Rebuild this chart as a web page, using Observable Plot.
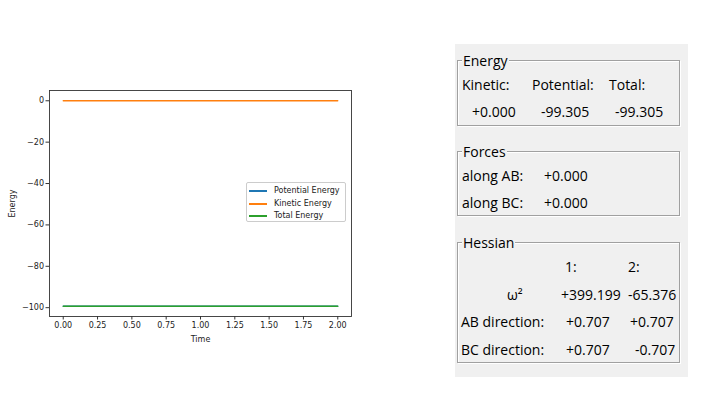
<!DOCTYPE html>
<html>
<head>
<meta charset="utf-8">
<script src="https://cdn.jsdelivr.net/npm/d3@7"></script>
<script src="https://cdn.jsdelivr.net/npm/@observablehq/plot@0.6"></script>
<style>
  html, body { margin: 0; padding: 0; background: #fff; }
  #root { position: relative; width: 708px; height: 396px; overflow: hidden; background: #fff; }
  #chart { position: absolute; left: 0; top: 0; }
  #legend { position: absolute; left: 246px; top: 182px; width: 100px; height: 40px; box-sizing: border-box;
            border: 1px solid #cccccc; border-radius: 2px; background: rgba(255,255,255,0.8);
            font-family: "DejaVu Sans", sans-serif; font-size: 8px; color: #222; }
  .li { position: absolute; left: 0; height: 12px; width: 100%; }
  .li .sw { position: absolute; left: 2px; top: 5px; width: 18px; height: 2px; display: block; }
  .li .tx { position: absolute; left: 27px; top: 0; line-height: 12px; white-space: nowrap; }
  #panel { position: absolute; left: 455px; top: 44px; width: 233px; height: 333px; background: #f0f0f0;
           font-family: "Open Sans", "Noto Sans", sans-serif; font-size: 14px; color: #000; }
  .grp { position: absolute; left: 2px; width: 223px; box-sizing: border-box; border: 1px solid #a0a0a0;
         box-shadow: inset 1px 1px 0 #fff, 1px 1px 0 #fff; }
  .t { position: absolute; white-space: nowrap; line-height: 14px; }
  .gl { background: #f0f0f0; padding: 0 1px; }
</style>
</head>
<body>
<div id="root">
  <div id="chart"></div>
  <div id="legend"></div>
  <div id="panel"></div>
</div>
<script>
// ---- chart data ----
const time = [0.0, 2.0];
const potentialEnergy = [-99.305, -99.305];
const kineticEnergy = [0.0, 0.0];
const totalEnergy = [-99.305, -99.305];
const seriesNames = ["Potential Energy", "Kinetic Energy", "Total Energy"];
const seriesColors = ["#1f77b4", "#ff7f0e", "#2ca02c"];
const xTicks = [0, 0.25, 0.5, 0.75, 1.0, 1.25, 1.5, 1.75, 2.0];
const yTicks = [0, -20, -40, -60, -80, -100];

// ---- panel data ----
const energyHeaders = ["Kinetic:", "Potential:", "Total:"];
const energyValues = ["+0.000", "-99.305", "-99.305"];
const forceLabels = ["along AB:", "along BC:"];
const forceValues = ["+0.000", "+0.000"];
const hessianCols = ["1:", "2:"];
const hessianRowLabels = ["ω²", "AB direction:", "BC direction:"];
const hessianValues = [["+399.199", "-65.376"], ["+0.707", "+0.707"], ["+0.707", "-0.707"]];

const seriesValues = [potentialEnergy, kineticEnergy, totalEnergy];
const rows = [];
seriesValues.forEach((vals, s) => time.forEach((t, i) => rows.push({t, v: vals[i], s: seriesNames[s]})));

const plot = Plot.plot({
  width: 360, height: 350,
  marginLeft: 49, marginRight: 9, marginTop: 90, marginBottom: 34,
  style: {fontFamily: "DejaVu Sans, sans-serif", fontSize: "8px", color: "#222", background: "transparent"},
  x: {domain: [-0.1, 2.1]},
  y: {domain: [-104.27, 4.965]},
  color: {domain: seriesNames, range: seriesColors},
  marks: [
    Plot.axisX({ticks: xTicks, tickFormat: d3.format(".2f"), tickSize: 3.5, tickPadding: 2, label: "Time",
                labelAnchor: "center", labelArrow: "none", labelOffset: 25, stroke: "#333"}),
    Plot.axisY({ticks: yTicks, tickFormat: d3.format("d"), tickSize: 3.5, tickPadding: 2, label: "Energy",
                labelAnchor: "center", labelArrow: "none", labelOffset: 40, stroke: "#333"}),
    Plot.lineY(rows, {x: "t", y: "v", z: "s", stroke: "s", strokeWidth: 1.3}),
    Plot.frame({stroke: "#333", strokeWidth: 0.9})
  ]
});
document.getElementById("chart").appendChild(plot);

// legend
const lg = document.getElementById("legend");
const legendRowTop = [2, 15, 27];
seriesNames.forEach((n, i) => {
  const d = document.createElement("div");
  d.className = "li";
  d.style.top = legendRowTop[i] + "px";
  d.innerHTML = `<span class="sw" style="background:${seriesColors[i]}"></span><span class="tx">${n}</span>`;
  lg.appendChild(d);
});

// panel
const panel = document.getElementById("panel");
const PX = 455, PY = 44, BASE = 12.4;
function txt(s, x, baseline, cls) {
  const e = document.createElement("span");
  e.className = "t" + (cls ? " " + cls : "");
  e.textContent = s;
  e.style.left = (x - PX) + "px";
  e.style.top = (baseline - BASE - PY) + "px";
  panel.appendChild(e);
  return e;
}
function grp(top, bottom) {
  const g = document.createElement("div");
  g.className = "grp";
  g.style.top = (top - PY) + "px";
  g.style.height = (bottom - top) + "px";
  panel.appendChild(g);
}
grp(60, 126); grp(151, 216); grp(242, 363);
txt("Energy", 462, 66, "gl");
txt("Forces", 462, 157, "gl");
txt("Hessian", 462, 248, "gl");

const eX = [462, 532, 609], evX = [472, 541, 615];
energyHeaders.forEach((h, i) => txt(h, eX[i], 90));
energyValues.forEach((v, i) => txt(v, evX[i], 117));

forceLabels.forEach((l, i) => { txt(l, 462, 181 + i * 27.5); txt(forceValues[i], 544, 181 + i * 27.5); });

const hcX = [565, 628];
hessianCols.forEach((c, i) => txt(c, hcX[i], 272));
const hrBase = [300, 327.5, 355];
const hrX = [507, 461, 461];
const hvX = [[561, 628], [566, 630], [566, 635]];
hessianRowLabels.forEach((l, r) => {
  txt(l, hrX[r], hrBase[r]);
  hessianValues[r].forEach((v, c) => txt(v, hvX[r][c], hrBase[r]));
});
</script>
</body>
</html>
